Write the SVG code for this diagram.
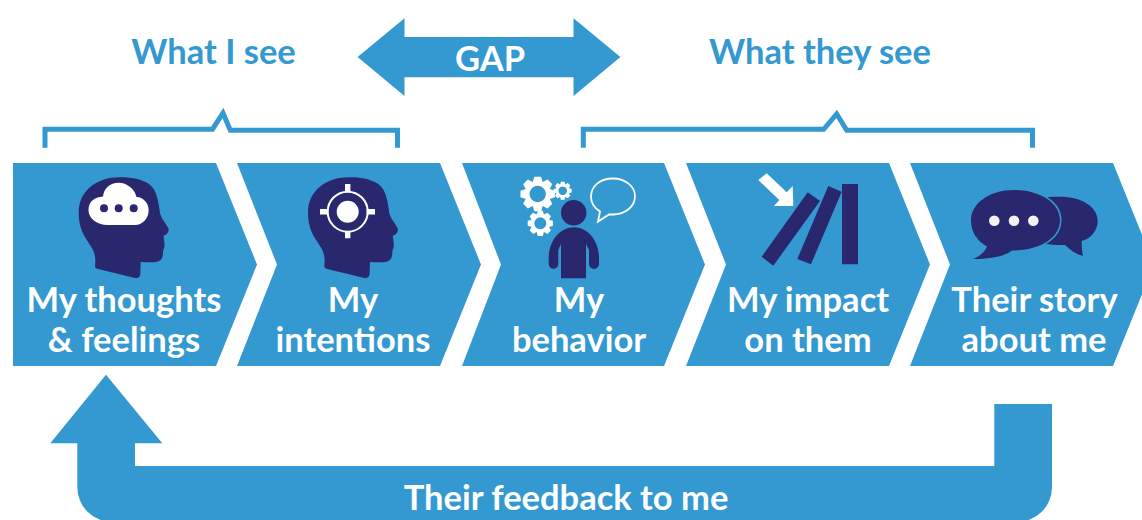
<svg xmlns="http://www.w3.org/2000/svg" xmlns:xlink="http://www.w3.org/1999/xlink" width="1142" height="520" viewBox="0 0 1142 520">
<style>
text{font-family:Lato,"Open Sans",sans-serif;font-weight:700;text-anchor:middle}
.w{fill:#fff;font-size:34.500px}
.b{fill:#3399d0;font-size:34.500px}
.c{fill:#3399d0}
.d{fill:#29286f}
.wf{fill:#fff}
.br{fill:none;stroke:#3399d0;stroke-width:5}
.ol{fill:none;stroke:#fff}
</style>
<defs>
<path id="head" d="M120 177.300C98 177 79 190 78.700 212C78.500 228 84 236 90 245C95 252 96 258 95 266C95 268 96 268.500 98 269L135 278C138 278.700 140 277 140.300 274L140.700 262C147 262 153 263 158 261.500C162 260 163 257 163 252C163.500 248 165 247 164.500 244L163.500 236C166 235 169.500 232 168.500 228.500C165 222 161 218 160 213C158 200 157 190 149 184C141 179 131 177 120 177.300Z"/>
<path id="gear" fill-rule="evenodd" d="M-3.500-18H3.500L5.200-12.500 10.250-15.200 15.200-10.250 12.500-5.200 18-3.500V3.500L12.500 5.200 15.200 10.250 10.250 15.200 5.200 12.500 3.500 18H-3.500L-5.200 12.500-10.250 15.200-15.200 10.250-12.500 5.200-18 3.500V-3.500L-12.500-5.200-15.200-10.250-10.250-15.200-5.200-12.500ZM0-8.500A8.500 8.500 0 1 0 .01-8.500Z"/>
</defs>

<g id="connectors">
<path id="bracket-left" class="br" d="M45 147.700V129.200H212.500L223 113L230.300 130.200H397.500V147.700"/>
<path id="bracket-right" class="br" d="M583.300 147.700V129.300H823.700L836.700 114L846.700 130.200H1032.500V147.700"/>
<path id="feedback-arrow" class="c" d="M106 374.700L162.300 443.300H135V466H994.300V404H1052V487A35 35 0 0 1 1017 522H112.300A35 35 0 0 1 77.300 487V443.300H50.300Z"/>
<path id="gap-arrow" class="c" d="M357.600 57L404.500 18.300V37H573.500V18.300L620.400 57L573.500 96V77.300H404.500V96Z"/>
</g>

<text class="b" x="213.500" y="63.500">What I see</text>
<text class="b" x="820" y="63.500">What they see</text>
<text class="w" x="490" y="70.500">GAP</text>
<text class="w" x="566" y="509.500">Their feedback to me</text>

<g id="node-thoughts">
<path class="c" d="M13 163H216L257 264.500L216 366H13Z"/>
<use class="d" xlink:href="#head" href="#head"/>
<path class="wf" d="M108 225C96 225 88.500 218 88.500 210C88.500 202 94 197 103 196.500C104 188 110 182.700 118.500 182.700C127 182.700 135 189 136.500 197C143 197 148.700 203 148.700 210C148.700 218 143 225 135 225Z"/>
<g class="d"><circle cx="104" cy="208.300" r="4"/><circle cx="118.700" cy="208.300" r="4"/><circle cx="133.700" cy="208.300" r="4"/></g>
<text class="w" x="124" y="312">My thoughts</text>
<text class="w" x="124" y="352">&amp; feelings</text>
</g>

<g id="node-intentions">
<path class="c" d="M237 163H440L481 264.500L440 366H237L277 264.500Z"/>
<use class="d" xlink:href="#head" href="#head" x="229.300"/>
<circle class="wf" cx="347.700" cy="211.700" r="11"/>
<circle class="ol" cx="347.700" cy="211.700" r="20" stroke-width="2"/>
<path class="wf" d="M345 184H350.400V192H345ZM345 231.700H350.400V238.300H345ZM320 209H328V214.400H320ZM366.700 209H375V214.400H366.700Z"/>
<text class="w" x="353" y="312">My</text>
<text class="w" x="353" y="352">intentions</text>
</g>

<g id="node-behavior">
<path class="c" d="M462 163H664L705 264.500L664 366H462L501 264.500Z"/>
<g class="wf">
<use xlink:href="#gear" href="#gear" transform="translate(537.700 194) scale(.96)"/>
<use xlink:href="#gear" href="#gear" transform="translate(540.300 223.300) scale(.7)"/>
<use xlink:href="#gear" href="#gear" transform="translate(562.700 190.700) scale(.5)"/>
</g>
<circle class="d" cx="573.700" cy="212.700" r="12.700"/>
<path class="d" d="M561 278.300V244L558.300 250V264A4.800 4.800 0 0 1 548.700 264V258C548.700 241 560 227.300 574 227.300C588 227.300 599 241 599 258V264A5 5 0 0 1 589 264V250L586 244V278.300Z"/>
<path class="ol" stroke-width="1.800" d="M600 211.500C593 207 591 202 591 197C591 186 600 178.500 613 178.500C626 178.500 635 187 635 196C635 207 625 214 613 214.500L609 214.500L598 221.500Z"/>
<text class="w" x="579" y="312">My</text>
<text class="w" x="579" y="352">behavior</text>
</g>

<g id="node-impact">
<path class="c" d="M686 163H889L930 264.500L889 366H686L726 264.500Z"/>
<path class="wf" d="M758.300 180L766.700 173.300L786.700 192.300L792.700 186L793.300 206L774 206L779.300 200Z"/>
<path class="d" d="M807.700 192.300L820 201L773.300 265.700L761.700 256.700ZM828.300 186L841.700 191.700L811 264.300L797.300 259ZM842 184H858V264.300H842Z"/>
<text class="w" x="808" y="312">My impact</text>
<text class="w" x="808" y="352">on them</text>
</g>

<g id="node-story">
<path class="c" d="M910 163H1113L1154 264.500L1113 366H910L950 264.500Z"/>
<path class="d" d="M1048 197C1052 196.700 1056 196.700 1060 196.700C1082 196.700 1097.700 207 1097.700 221C1097.700 231 1090 239 1081.700 241C1081.700 247 1082 252 1083 256C1076 254 1070 250 1065 245C1058 245 1052 245 1046 244Z"/>
<path class="d" stroke="#3399d0" stroke-width="3" paint-order="stroke" d="M1014 190C1040 190 1060 203 1060 220C1060 238 1040 250.500 1012 250.500C1006 256 990 259 973 259C980 256 985 252 987 246.500C977 241 971 232 971 220C971 203 990 190 1014 190Z"/>
<g fill="#f2f2f2"><circle cx="994.300" cy="220.700" r="5.300"/><circle cx="1014" cy="220.700" r="5.300"/><circle cx="1033.300" cy="220.700" r="5.300"/></g>
<text class="w" x="1034.500" y="312">Their story</text>
<text class="w" x="1034" y="352">about me</text>
</g>
</svg>
